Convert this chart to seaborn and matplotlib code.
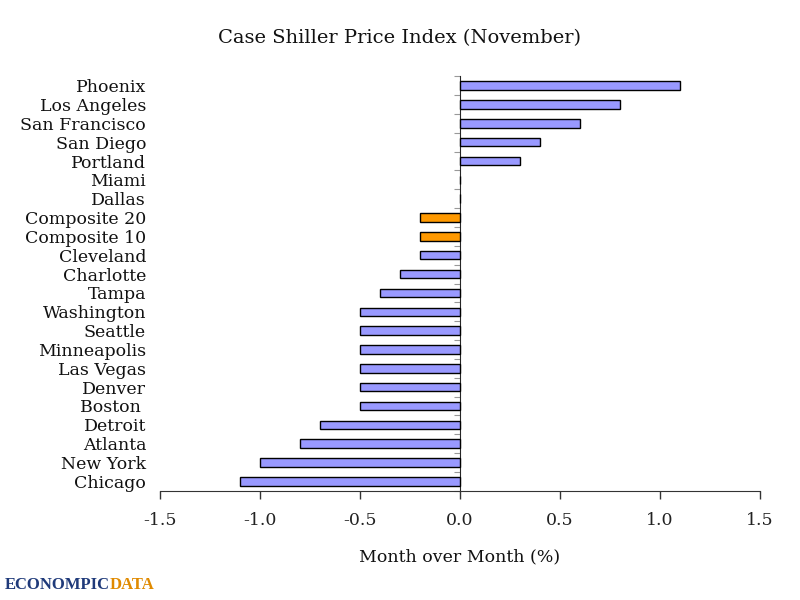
import numpy as np
import pandas as pd
import seaborn as sns
import matplotlib.pyplot as plt

cities = ["Phoenix", "Los Angeles", "San Francisco", "San Diego", "Portland", "Miami",
          "Dallas", "Composite 20", "Composite 10", "Cleveland", "Charlotte", "Tampa",
          "Washington", "Seattle", "Minneapolis", "Las Vegas", "Denver", "Boston ",
          "Detroit", "Atlanta", "New York", "Chicago"]
mom = [1.1, 0.8, 0.6, 0.4, 0.3, 0.0, 0.0, -0.2, -0.2, -0.2, -0.3, -0.4,
       -0.5, -0.5, -0.5, -0.5, -0.5, -0.5, -0.7, -0.8, -1.0, -1.1]
kind = ["Composite" if c.startswith("Composite") else "City" for c in cities]
xticks = [-1.5, -1.0, -0.5, 0.0, 0.5, 1.0, 1.5]

df = pd.DataFrame({"City": cities, "MoM": mom, "Kind": kind})

sns.set_style("white")
plt.rcParams['font.family'] = ['DejaVu Serif']
plt.rcParams['text.color'] = '#111111'

fig = plt.figure(figsize=(8, 6), dpi=100)
ax = fig.add_axes([0.2, 0.182, 0.75, 0.691])
sns.barplot(data=df, x="MoM", y="City", hue="Kind", orient="h", ax=ax,
            palette={"City": "#9999ff", "Composite": "#ff9900"}, saturation=1,
            width=0.45, edgecolor="black", linewidth=1, dodge=False, legend=False)

ax.set_xlim(-1.5, 1.5)
ax.set_ylim(len(cities) - 0.5, -0.5)
ax.set_xticks(xticks)
ax.set_xticklabels([f"{t:.1f}" for t in xticks], fontsize=12.5, color="#222222")
ax.tick_params(axis="x", bottom=True, direction="out", length=6, width=1,
               color="#333333", pad=9)
ax.tick_params(axis="y", left=False, length=0, labelsize=12.5, pad=10,
               labelcolor="#111111")
ax.set_ylabel("")
ax.set_xlabel("Month over Month (%)", fontsize=12.5, labelpad=14, color="#111111")
for s in ["left", "top", "right"]:
    ax.spines[s].set_visible(False)
ax.spines["bottom"].set_color("#333333")

# vertical axis at zero with ticks between categories
sec = ax.secondary_yaxis(0.5)
sec.set_yticks(np.arange(-0.5, len(cities), 1.0))
sec.set_yticklabels([])
sec.tick_params(axis="y", left=True, right=False, direction="out", length=4,
                color="#999999")
sec.spines["left"].set_color("#333333")

fig.suptitle("Case Shiller Price Index (November)", y=0.952, fontsize=14,
             color="#111111")

t1 = fig.text(0.006, 0.018, "ECONOMPIC", color="#1f3a7a", fontsize=12,
              fontweight="bold", family="Liberation Serif")
fig.canvas.draw()
bb = t1.get_window_extent()
fig.text(bb.x1 / fig.bbox.width, 0.018, "DATA", color="#e08a00", fontsize=12,
         fontweight="bold", family="Liberation Serif")

fig.savefig("out.png", dpi=100)
